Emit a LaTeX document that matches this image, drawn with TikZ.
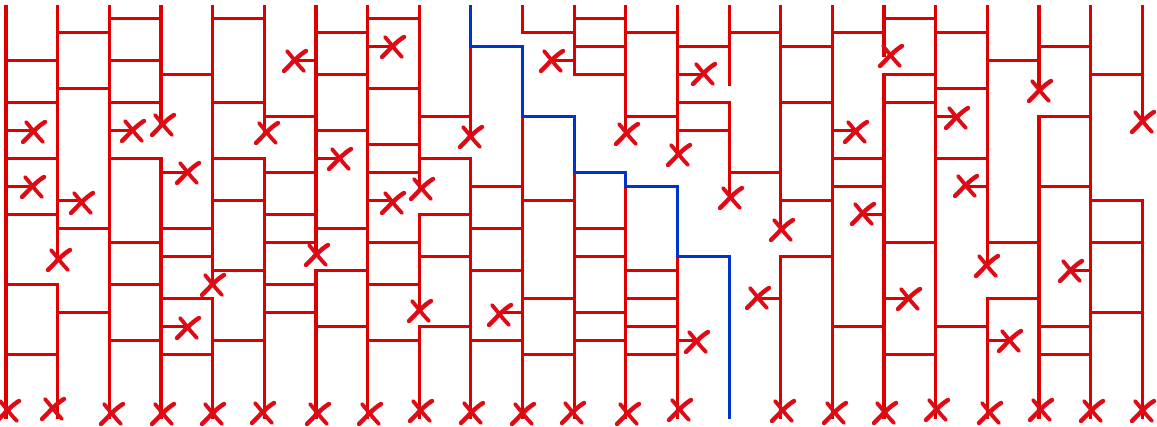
\documentclass[tikz,border=0pt]{standalone}
\definecolor{lred}{RGB}{221,0,0}
\definecolor{lblue}{RGB}{0,51,204}
\definecolor{xred}{RGB}{222,10,22}
\begin{document}
\begin{tikzpicture}[x=1pt,y=-1pt,
  redline/.style={draw=lred,line width=3.2pt,line cap=rect},
  blueline/.style={draw=lblue,line width=3.2pt,line cap=rect},
  xm/.pic={\draw[xred,line width=4.4pt,line cap=round] (-11,11) .. controls (-3,3) and (4,-5) .. (11,-9);
           \draw[xred,line width=3.8pt,line cap=round] (-8,-9) .. controls (-2,-2) and (3,5) .. (9,11);}]
\useasboundingbox (0,0) rectangle (1157,427);
% grid coordinates
\foreach \i in {0,...,22} \coordinate (c\i) at ({6+51.65*\i},0);
\foreach \k in {1,...,25} \coordinate (r\k) at (0,{4.3+14*\k});
\coordinate (top) at (0,6.6);
\coordinate (bot) at (0,417.1);
\coordinate (c14end) at (0,84.5);
% cut marks at ends of vertical segments
\coordinate (e1) at (59,259);   \coordinate (e3) at (163,124);  \coordinate (e4) at (213,284);
\coordinate (e5) at (267,132);  \coordinate (e6) at (317,254);  \coordinate (e8) at (422,188);
\coordinate (e8b) at (420,310); \coordinate (e9) at (471,136);  \coordinate (e12) at (627,133);
\coordinate (e13) at (679,154); \coordinate (e14) at (731,197); \coordinate (e15) at (782,229);
\coordinate (e17) at (891,55);  \coordinate (e19) at (987,265); \coordinate (e20) at (1040,90);
\coordinate (e22) at (1143,121);
% cut marks at ends of stubs
\coordinate (s0a) at (34,131);  \coordinate (s0b) at (33,186);  \coordinate (s1) at (82,202);
\coordinate (s2) at (133,130);  \coordinate (s3a) at (188,172); \coordinate (s3b) at (188,327);
\coordinate (s6a) at (295,60);  \coordinate (s6b) at (340,158); \coordinate (s7a) at (393,46);
\coordinate (s7b) at (393,202); \coordinate (s10) at (500,314); \coordinate (s11) at (552,60);
\coordinate (s13a) at (704,73); \coordinate (s13b) at (697,341);\coordinate (s15) at (758,297);
\coordinate (s16) at (856,131); \coordinate (s17a) at (863,213);\coordinate (s17b) at (909,298);
\coordinate (s18) at (957,117); \coordinate (s19a) at (966,185);\coordinate (s19b) at (1010,340);
\coordinate (s21) at (1071,270);
% full verticals
\foreach \i in {0,2,7,16,18,21} \draw[redline] (c\i|-top) -- (c\i|-bot);
% top segments
\draw[redline] (c1|-top) -- (c1|-e1);
\draw[redline] (c3|-top) -- (c3|-e3);
\draw[redline] (c4|-top) -- (c4|-e4);
\draw[redline] (c5|-top) -- (c5|-e5);
\draw[redline] (c6|-top) -- (c6|-e6);
\draw[redline] (c8|-top) -- (c8|-e8);
\draw[redline] (c12|-top) -- (c12|-e12);
\draw[redline] (c13|-top) -- (c13|-e13);
\draw[redline] (c14|-top) -- (c14|-c14end);
\draw[redline] (c15|-top) -- (c15|-e15);
\draw[redline] (c17|-top) -- (c17|-e17);
\draw[redline] (c19|-top) -- (c19|-e19);
\draw[redline] (c20|-top) -- (c20|-e20);
\draw[redline] (c22|-top) -- (c22|-e22);
% corners
\draw[redline] (c0|-r20) -- (c1|-r20) -- (c1|-bot);
\draw[redline] (c2|-r11) -- (c3|-r11) -- (c3|-bot);
\draw[redline] (c3|-r21) -- (c4|-r21) -- (c4|-bot);
\draw[redline] (c4|-r11) -- (c5|-r11) -- (c5|-bot);
\draw[redline] (c7|-r19) -- (c6|-r19) -- (c6|-bot);
\draw[redline] (c8|-r11) -- (c9|-r11) -- (c9|-bot);
\draw[redline] (c9|-r15) -- (c8|-r15) -- (c8|-e8b);
\draw[redline] (c9|-r23) -- (c8|-r23) -- (c8|-bot);
\draw[redline] (c10|-top) -- (c10|-r2) -- (c11|-r2);
\draw[redline] (c11|-top) -- (c11|-r5) -- (c12|-r5);
\draw[redline] (c13|-r7) -- (c14|-r7) -- (c14|-e14);
\draw[redline] (c16|-r18) -- (c15|-r18) -- (c15|-bot);
\draw[redline] (c18|-r5) -- (c17|-r5) -- (c17|-bot);
\draw[redline] (c20|-r21) -- (c19|-r21) -- (c19|-bot);
\draw[redline] (c21|-r8) -- (c20|-r8) -- (c20|-bot);
\draw[redline] (c21|-r14) -- (c22|-r14) -- (c22|-bot);
% red below the blue path
\draw[redline] (c9|-r3) -- (c9|-e9);
\draw[redline] (c10|-r8) -- (c10|-bot);
\draw[redline] (c11|-r12) -- (c11|-bot);
\draw[redline] (c12|-r13) -- (c12|-bot);
\draw[redline] (c13|-r18) -- (c13|-bot);
% rungs
\foreach \k in {4,7,11,15,25} \draw[redline] (c0|-r\k) -- (c1|-r\k);
\foreach \k in {2,6,16,22} \draw[redline] (c1|-r\k) -- (c2|-r\k);
\foreach \k in {1,4,7,17,20,24} \draw[redline] (c2|-r\k) -- (c3|-r\k);
\foreach \k in {5,16,18,25} \draw[redline] (c3|-r\k) -- (c4|-r\k);
\foreach \k in {1,7,14,19,24} \draw[redline] (c4|-r\k) -- (c5|-r\k);
\foreach \k in {8,12,15,17,20,22} \draw[redline] (c5|-r\k) -- (c6|-r\k);
\foreach \k in {2,5,9,16,23} \draw[redline] (c6|-r\k) -- (c7|-r\k);
\foreach \k in {1,6,10,12,17,20,24} \draw[redline] (c7|-r\k) -- (c8|-r\k);
\foreach \k in {8,18} \draw[redline] (c8|-r\k) -- (c9|-r\k);
\foreach \k in {13,16,19,24} \draw[redline] (c9|-r\k) -- (c10|-r\k);
\foreach \k in {14,21,25} \draw[redline] (c10|-r\k) -- (c11|-r\k);
\foreach \k in {1,3,16,18,22,24} \draw[redline] (c11|-r\k) -- (c12|-r\k);
\foreach \k in {2,8,19,21,23,25} \draw[redline] (c12|-r\k) -- (c13|-r\k);
\foreach \k in {3,9} \draw[redline] (c13|-r\k) -- (c14|-r\k);
\foreach \k in {2,12} \draw[redline] (c14|-r\k) -- (c15|-r\k);
\foreach \k in {3,7,14} \draw[redline] (c15|-r\k) -- (c16|-r\k);
\foreach \k in {2,11,13,23} \draw[redline] (c16|-r\k) -- (c17|-r\k);
\foreach \k in {1,7,17,25} \draw[redline] (c17|-r\k) -- (c18|-r\k);
\foreach \k in {2,6,11,23} \draw[redline] (c18|-r\k) -- (c19|-r\k);
\foreach \k in {4,17} \draw[redline] (c19|-r\k) -- (c20|-r\k);
\foreach \k in {3,13,23,25} \draw[redline] (c20|-r\k) -- (c21|-r\k);
\foreach \k in {5,17,22} \draw[redline] (c21|-r\k) -- (c22|-r\k);
% stubs
\draw[redline] (c0|-r9) -- (s0a|-r9);
\draw[redline] (c0|-r13) -- (s0b|-r13);
\draw[redline] (c1|-r14) -- (s1|-r14);
\draw[redline] (c2|-r9) -- (s2|-r9);
\draw[redline] (c3|-r12) -- (s3a|-r12);
\draw[redline] (c3|-r23) -- (s3b|-r23);
\draw[redline] (c6|-r4) -- (s6a|-r4);
\draw[redline] (c6|-r11) -- (s6b|-r11);
\draw[redline] (c7|-r3) -- (s7a|-r3);
\draw[redline] (c7|-r14) -- (s7b|-r14);
\draw[redline] (c10|-r22) -- (s10|-r22);
\draw[redline] (c11|-r4) -- (s11|-r4);
\draw[redline] (c13|-r5) -- (s13a|-r5);
\draw[redline] (c13|-r24) -- (s13b|-r24);
\draw[redline] (c15|-r21) -- (s15|-r21);
\draw[redline] (c16|-r9) -- (s16|-r9);
\draw[redline] (c17|-r15) -- (s17a|-r15);
\draw[redline] (c17|-r21) -- (s17b|-r21);
\draw[redline] (c18|-r8) -- (s18|-r8);
\draw[redline] (c19|-r13) -- (s19a|-r13);
\draw[redline] (c19|-r24) -- (s19b|-r24);
\draw[redline] (c21|-r19) -- (s21|-r19);
% blue path
\draw[blueline] (c9|-top) -- (c9|-r3) -- (c10|-r3) -- (c10|-r8) -- (c11|-r8) -- (c11|-r12)
  -- (c12|-r12) -- (c12|-r13) -- (c13|-r13) -- (c13|-r18) -- (c14|-r18) -- (c14|-bot);
% cut marks
\foreach \m in {e1,e3,e4,e5,e6,e8,e8b,e9,e12,e13,e14,e15,e17,e19,e20,e22,
  s0a,s0b,s1,s2,s3a,s3b,s6a,s6b,s7a,s7b,s10,s11,s13a,s13b,s15,s16,s17a,s17b,s18,s19a,s19b,s21}
  \pic at (\m) {xm};
\foreach \x/\y in {8/410,53/408,112/413,163/413,213/413,263/412,318/413,370/413,421/410,472/412,
  523/413,573/412,628/413,680/409,783/410,835/412,885/412,937/409,990/412,1041/409,1092/410,1143/410}
  \pic at (\x,\y) {xm};
\end{tikzpicture}
\end{document}
